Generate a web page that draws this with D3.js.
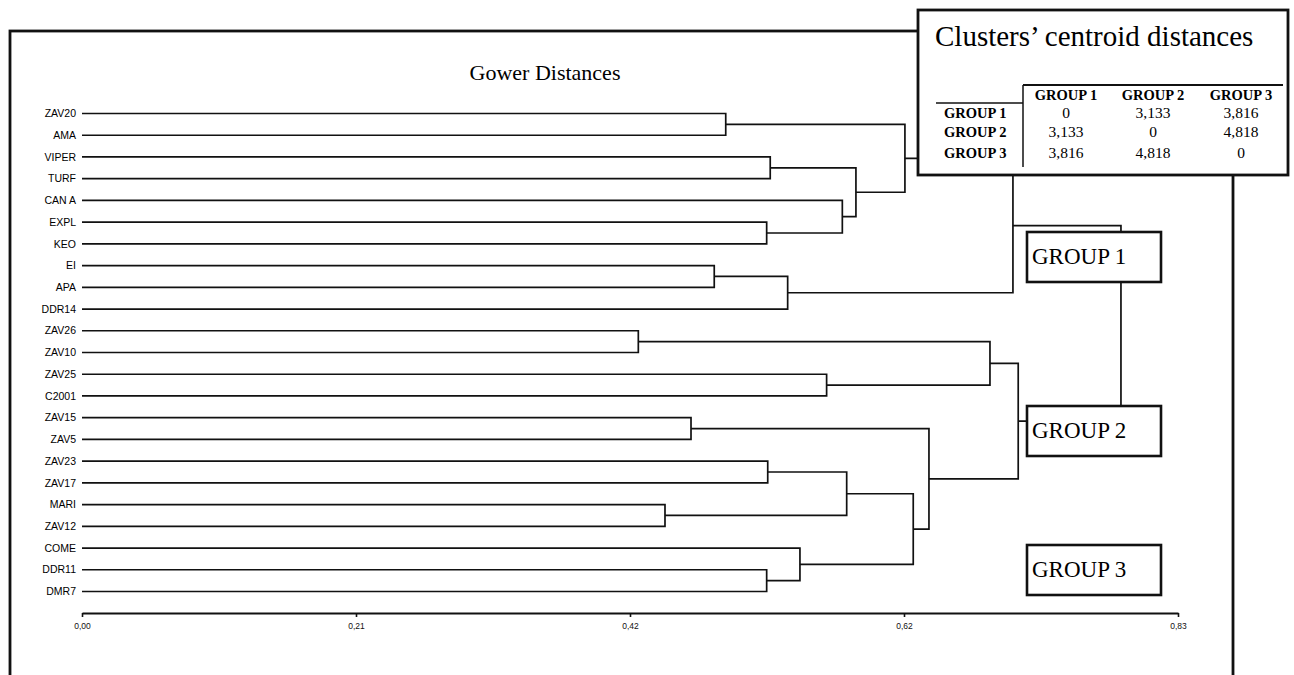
<!DOCTYPE html>
<html>
<head>
<meta charset="utf-8">
<script src="https://cdn.jsdelivr.net/npm/d3@7"></script>
<style>
  body { margin: 0; background: #fff; }
  svg { display: block; }
  .leaf { font-family: "Liberation Sans", Arial, sans-serif; font-size: 10.5px; }
  .serif { font-family: "Liberation Serif", "Times New Roman", serif; }
</style>
</head>
<body>
<svg id="chart" width="1294" height="675"></svg>
<script>
// leaves, top to bottom
const leaves = ["ZAV20", "AMA", "VIPER", "TURF", "CAN A", "EXPL", "KEO", "EI", "APA", "DDR14",
  "ZAV26", "ZAV10", "ZAV25", "C2001", "ZAV15", "ZAV5", "ZAV23", "ZAV17", "MARI", "ZAV12",
  "COME", "DDR11", "DMR7"];

// linkage: [child a, child b, distance]; ids >= 23 refer to earlier merges (23 + row index)
const merges = [
  [0, 1, 0.4875],    // 23
  [2, 3, 0.5212],    // 24
  [5, 6, 0.5185],    // 25
  [4, 25, 0.5758],   // 26
  [24, 26, 0.5861],  // 27
  [23, 27, 0.6232],  // 28
  [7, 8, 0.4788],    // 29
  [29, 9, 0.5344],   // 30
  [28, 30, 0.7050],  // 31  group 1
  [10, 11, 0.4213],  // 32
  [12, 13, 0.5639],  // 33
  [32, 33, 0.6876],  // 34
  [14, 15, 0.4612],  // 35
  [16, 17, 0.5193],  // 36
  [18, 19, 0.4415],  // 37
  [36, 37, 0.5791],  // 38
  [21, 22, 0.5185],  // 39
  [20, 39, 0.5437],  // 40
  [38, 40, 0.6295],  // 41
  [35, 41, 0.6414],  // 42
  [34, 42, 0.7090],  // 43  group 2
  [31, 43, 0.7868]   // 44
];

const tickValues = [0, 0.2075, 0.415, 0.6225, 0.83];
const tickLabels = ["0,00", "0,21", "0,42", "0,62", "0,83"];

const groups = ["GROUP 1", "GROUP 2", "GROUP 3"];
const centroidDist = [
  [0, 3.133, 3.816],
  [3.133, 0, 4.818],
  [3.816, 4.818, 0]
];

const svg = d3.select("#chart");
const ink = "#111";

const x = d3.scaleLinear().domain([0, 0.83]).range([82, 1178]);
const y = d3.scalePoint().domain(d3.range(leaves.length)).range([113.5, 591.5]);

// node positions
const nodes = leaves.map((name, i) => ({ h: 0, y: y(i) }));
merges.forEach(m => {
  const a = nodes[m[0]], b = nodes[m[1]];
  nodes.push({ h: m[2], y: (a.y + b.y) / 2 });
});

// outer frame
svg.append("rect")
  .attr("x", 10).attr("y", 31)
  .attr("width", 1223).attr("height", 700)
  .attr("fill", "none").attr("stroke", ink).attr("stroke-width", 2.8);

svg.append("text")
  .attr("class", "serif")
  .attr("x", 545).attr("y", 80)
  .attr("text-anchor", "middle")
  .attr("font-size", 22)
  .text("Gower Distances");

// leaf labels
svg.selectAll("text.leaf")
  .data(leaves)
  .enter()
  .append("text")
  .attr("class", "leaf")
  .attr("x", 76)
  .attr("y", (d, i) => y(i))
  .attr("dy", "0.35em")
  .attr("text-anchor", "end")
  .text(d => d);

// dendrogram elbows
svg.append("g")
  .selectAll("path")
  .data(merges)
  .enter()
  .append("path")
  .attr("fill", "none")
  .attr("stroke", ink)
  .attr("stroke-width", 1.7)
  .attr("d", m => {
    const a = nodes[m[0]], b = nodes[m[1]];
    return "M" + x(a.h) + "," + a.y + "H" + x(m[2]) + "V" + b.y + "H" + x(b.h);
  });

// axis
const axis = d3.axisBottom(x)
  .tickValues(tickValues)
  .tickFormat((d, i) => tickLabels[i])
  .tickSizeInner(4)
  .tickSizeOuter(0)
  .tickPadding(6);

const gAxis = svg.append("g")
  .attr("transform", "translate(0,613)")
  .call(axis);
gAxis.select(".domain").attr("stroke", ink).attr("stroke-width", 2);
gAxis.selectAll(".tick line").attr("stroke", ink).attr("stroke-width", 1.6);
gAxis.selectAll(".tick text")
  .attr("fill", ink)
  .style("font-family", "'Liberation Sans', Arial, sans-serif")
  .style("font-size", "8.5px");

// group boxes
const boxTop = [232, 406, 545];
const gBox = svg.append("g");
groups.forEach((g, i) => {
  gBox.append("rect")
    .attr("x", 1027).attr("y", boxTop[i])
    .attr("width", 134).attr("height", 50)
    .attr("fill", "#fff").attr("stroke", ink).attr("stroke-width", 2.6);
  gBox.append("text")
    .attr("class", "serif")
    .attr("x", 1032).attr("y", boxTop[i] + 32)
    .attr("font-size", 23)
    .text(g);
});

// centroid distance table
const tbl = svg.append("g");
tbl.append("rect")
  .attr("x", 918).attr("y", 10)
  .attr("width", 370).attr("height", 165)
  .attr("fill", "#fff").attr("stroke", ink).attr("stroke-width", 2.8);

tbl.append("text")
  .attr("class", "serif")
  .attr("x", 935).attr("y", 46)
  .attr("font-size", 29)
  .text("Clusters\u2019 centroid distances");

tbl.append("line").attr("x1", 1023).attr("x2", 1283).attr("y1", 85).attr("y2", 85)
  .attr("stroke", ink).attr("stroke-width", 1.8);
tbl.append("line").attr("x1", 936).attr("x2", 1023).attr("y1", 103).attr("y2", 103)
  .attr("stroke", ink).attr("stroke-width", 1.5);
tbl.append("line").attr("x1", 1023).attr("x2", 1023).attr("y1", 85).attr("y2", 167)
  .attr("stroke", ink).attr("stroke-width", 1.5);

const colX = [1066, 1153, 1241];
const rowY = [118, 137, 158];
const fmt = v => v === 0 ? "0" : v.toFixed(3).replace(".", ",");

tbl.selectAll("text.head")
  .data(groups)
  .enter()
  .append("text")
  .attr("class", "serif head")
  .attr("x", (d, i) => colX[i]).attr("y", 100)
  .attr("text-anchor", "middle")
  .attr("font-size", 14.5).attr("font-weight", "bold")
  .text(d => d);

tbl.selectAll("text.rowlab")
  .data(groups)
  .enter()
  .append("text")
  .attr("class", "serif rowlab")
  .attr("x", 944).attr("y", (d, i) => rowY[i])
  .attr("font-size", 14.5).attr("font-weight", "bold")
  .text(d => d);

centroidDist.forEach((row, r) => {
  tbl.selectAll(null)
    .data(row)
    .enter()
    .append("text")
    .attr("class", "serif")
    .attr("x", (d, c) => colX[c]).attr("y", rowY[r])
    .attr("text-anchor", "middle")
    .attr("font-size", 15.5)
    .text(d => fmt(d));
});
</script>
</body>
</html>
